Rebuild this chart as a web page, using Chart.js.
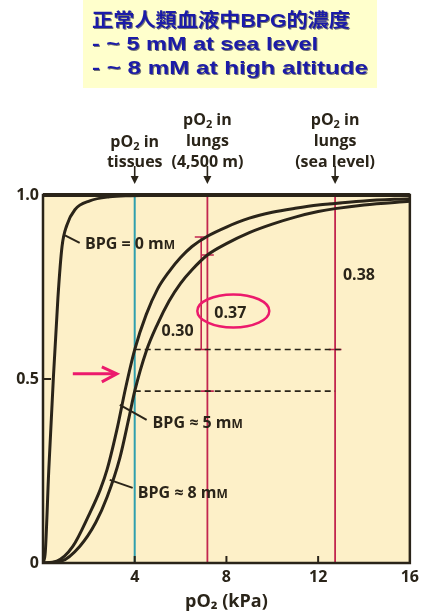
<!DOCTYPE html>
<html>
<head>
<meta charset="utf-8">
<script src="https://cdn.jsdelivr.net/npm/chart.js@4/dist/chart.umd.min.js"></script>
<style>
  html, body { margin: 0; padding: 0; background: #ffffff; }
  canvas { display: block; }
</style>
</head>
<body>
<canvas id="odc_chart" width="424" height="613"></canvas>
<script>

// O2 saturation curves: pO2 in kPa, fractional saturation
const bpg0Po2 = [0, 0.1, 0.25, 0.45, 0.65, 0.83, 1.04, 1.39, 2.04, 2.9, 3.8, 6, 16];
const bpg0Sat = [0, 0.03, 0.25, 0.5, 0.72, 0.86, 0.918, 0.96, 0.984, 0.995, 0.998, 1, 1];

const bpg5Po2 = [0, 0.6, 1.3, 2.0, 2.5, 2.8, 3.25, 3.6, 4.0, 4.5, 5.0, 5.5, 6.0, 6.5, 7.17, 8.0, 9.0, 10.0, 11.0, 12.0, 12.74, 14.0, 16.0];
const bpg5Sat = [0, 0.005, 0.045, 0.13, 0.2, 0.255, 0.37, 0.475, 0.58, 0.675, 0.745, 0.792, 0.83, 0.86, 0.888, 0.913, 0.937, 0.953, 0.964, 0.973, 0.977, 0.984, 0.99];

const bpg8Po2 = [0, 0.8, 1.6, 2.3, 2.8, 3.35, 3.75, 4.0, 4.5, 5.0, 5.5, 6.0, 6.5, 7.17, 8.0, 9.0, 10.0, 11.0, 12.0, 12.74, 14.0, 16.0];
const bpg8Sat = [0, 0.005, 0.045, 0.11, 0.18, 0.285, 0.395, 0.467, 0.575, 0.65, 0.712, 0.76, 0.797, 0.837, 0.868, 0.898, 0.921, 0.94, 0.955, 0.963, 0.973, 0.983];

// reference pO2 values (kPa)
const tissuePo2 = 4;
const lungHighPo2 = 7.17;
const lungSeaPo2 = 12.74;
const bracketPo2 = 6.9;
const dashEndPo2 = 13.0;

// saturation levels marked on the figure
const sat5Tissue = 0.58;
const sat8Tissue = 0.467;
const sat5High = 0.886;
const sat8High = 0.837;
const sat5Sea = 0.977;

const xTicks = [4, 8, 12, 16];
const yTickLabels = {0: '0', 0.5: '0.5', 1: '1.0'};
const deltaLabels = ['0.30', '0.37', '0.38'];

const titleLines = ['正常人類血液中BPG的濃度', '- ~ 5 mM at sea level', '- ~ 8 mM at high altitude'];

/////////////////////////////////////////////////////
const ink = '#2a2419';
const red = '#c2264f';
const cyan = '#2f9fae';
const pink = '#ec1a6c';

function pts(xs, ys) {
  return xs.map((x, i) => ({x: x, y: ys[i]}));
}

function seg(x1, y1, x2, y2, color, width, dash) {
  return {
    data: [{x: x1, y: y1}, {x: x2, y: y2}],
    borderColor: color,
    borderWidth: width,
    borderDash: dash || [],
    pointRadius: 0,
    tension: 0,
  };
}

function curve(xs, ys) {
  return {
    data: pts(xs, ys),
    borderColor: ink,
    borderWidth: 3,
    pointRadius: 0,
    cubicInterpolationMode: 'monotone',
  };
}

// little caps on the brackets
const capMarks = [
  [bracketPo2, sat5High], [bracketPo2, sat5Tissue],
  [lungHighPo2, sat8High], [lungHighPo2, sat8Tissue],
  [lungSeaPo2, sat5Sea], [lungSeaPo2, sat5Tissue],
];

const datasets = [
  curve(bpg0Po2, bpg0Sat),
  curve(bpg5Po2, bpg5Sat),
  curve(bpg8Po2, bpg8Sat),
  seg(tissuePo2, sat5Tissue, dashEndPo2, sat5Tissue, ink, 1.6, [6, 4]),
  seg(tissuePo2, sat8Tissue, lungSeaPo2, sat8Tissue, ink, 1.6, [6, 4]),
  seg(bracketPo2, sat5Tissue, bracketPo2, sat5High, red, 1.6),
  seg(tissuePo2, 0, tissuePo2, 1, cyan, 2),
  seg(lungHighPo2, 0, lungHighPo2, 1, red, 1.8),
  seg(lungSeaPo2, 0, lungSeaPo2, 1, red, 1.8),
];
capMarks.forEach(c => datasets.push(seg(c[0] - 0.28, c[1], c[0] + 0.28, c[1], red, 1.6)));

// text with sub/small-cap pieces, parts = [text, size, dy]
function drawParts(ctx, x, base, parts, align) {
  let total = 0;
  parts.forEach(p => {
    ctx.font = 'bold ' + p[1] + 'px "Open Sans"';
    total += ctx.measureText(p[0]).width;
  });
  let cx = align === 'center' ? x - total / 2 : x;
  ctx.textAlign = 'left';
  ctx.textBaseline = 'alphabetic';
  parts.forEach(p => {
    ctx.font = 'bold ' + p[1] + 'px "Open Sans"';
    ctx.fillText(p[0], cx, base + (p[2] || 0));
    cx += ctx.measureText(p[0]).width;
  });
}

function downArrow(ctx, x) {
  ctx.beginPath();
  ctx.moveTo(x, 166);
  ctx.lineTo(x, 178);
  ctx.stroke();
  ctx.beginPath();
  ctx.moveTo(x - 4, 176);
  ctx.lineTo(x + 4, 176);
  ctx.lineTo(x, 184);
  ctx.closePath();
  ctx.fill();
}

const decorations = {
  id: 'decorations',
  beforeDraw(chart) {
    const ctx = chart.ctx, a = chart.chartArea;
    ctx.save();
    ctx.fillStyle = '#ffffcc';
    ctx.fillRect(83, 0, 294, 88);
    ctx.fillStyle = '#fdf0c8';
    ctx.fillRect(a.left, a.top, a.right - a.left, a.bottom - a.top);

    // title block
    const widths = [258, 226, 276];
    const centers = [22, 45, 69];
    ctx.textBaseline = 'middle';
    ctx.textAlign = 'left';
    titleLines.forEach((t, i) => {
      ctx.font = 'bold 19px "Liberation Sans", "Noto Sans CJK TC", sans-serif';
      const w = ctx.measureText(t).width;
      ctx.save();
      ctx.translate(92, centers[i]);
      ctx.scale(widths[i] / w, 1);
      ctx.shadowColor = 'rgba(0, 0, 40, 0.55)';
      ctx.shadowOffsetX = 1;
      ctx.shadowOffsetY = 1;
      ctx.fillStyle = '#1b1ba8';
      ctx.fillText(t, 0, 0);
      ctx.restore();
    });
    ctx.restore();
  },
  afterDatasetsDraw(chart) {
    const ctx = chart.ctx, a = chart.chartArea;
    const sx = v => chart.scales.x.getPixelForValue(v);
    const sy = v => chart.scales.y.getPixelForValue(v);
    ctx.save();
    ctx.strokeStyle = ink;
    ctx.fillStyle = ink;

    // frame
    ctx.lineWidth = 2.5;
    ctx.strokeRect(a.left, a.top, a.right - a.left, a.bottom - a.top);
    ctx.lineWidth = 4;
    ctx.beginPath();
    ctx.moveTo(a.left, a.top);
    ctx.lineTo(a.right, a.top);
    ctx.stroke();

    // inside tick marks
    ctx.lineWidth = 2;
    xTicks.slice(0, 3).forEach(v => {
      ctx.beginPath();
      ctx.moveTo(sx(v), a.bottom);
      ctx.lineTo(sx(v), a.bottom - 7);
      ctx.stroke();
    });
    [0.5].forEach(v => {
      ctx.beginPath();
      ctx.moveTo(a.left, sy(v));
      ctx.lineTo(a.left + 8, sy(v));
      ctx.stroke();
    });

    // column headers and arrows
    const cols = [
      [tissuePo2, [[141, 'pO2 in'], [161, 'tissues']]],
      [lungHighPo2, [[119, 'pO2 in'], [140, 'lungs'], [161, '(4,500 m)']]],
      [lungSeaPo2, [[119, 'pO2 in'], [140, 'lungs'], [161, '(sea level)']]],
    ];
    cols.forEach(c => {
      const x = sx(c[0]);
      c[1].forEach(l => {
        const base = l[0] + 5.5;
        if (l[1] === 'pO2 in') {
          drawParts(ctx, x, base, [['pO', 16], ['2', 11, 3], [' in', 16]], 'center');
        } else {
          drawParts(ctx, x, base, [[l[1], 16]], 'center');
        }
      });
      ctx.lineWidth = 1.6;
      downArrow(ctx, x);
    });

    // curve labels with leaders
    ctx.lineWidth = 2;
    ctx.beginPath();
    ctx.moveTo(sx(0.96), sy(0.89));
    ctx.lineTo(sx(1.6), sy(0.87));
    ctx.stroke();
    drawParts(ctx, sx(1.83), sy(0.87) + 6, [['BPG = 0 m', 16], ['M', 12]]);

    ctx.beginPath();
    ctx.moveTo(sx(3.35), sy(0.43));
    ctx.lineTo(sx(4.52), sy(0.389));
    ctx.stroke();
    drawParts(ctx, sx(4.78), sy(0.383) + 6, [['BPG ≈ 5 m', 16], ['M', 12]]);

    ctx.beginPath();
    ctx.moveTo(sx(2.91), sy(0.226));
    ctx.lineTo(sx(3.91), sy(0.204));
    ctx.stroke();
    drawParts(ctx, sx(4.13), sy(0.193) + 6, [['BPG ≈ 8 m', 16], ['M', 12]]);

    // delta values
    drawParts(ctx, sx(5.87), sy(0.633) + 6, [[deltaLabels[0], 16]], 'center');
    drawParts(ctx, sx(8.17), sy(0.682) + 6, [[deltaLabels[1], 16]], 'center');
    drawParts(ctx, sx(13.78), sy(0.785) + 6, [[deltaLabels[2], 16]], 'center');

    // pink highlight
    ctx.strokeStyle = pink;
    ctx.lineWidth = 2.5;
    ctx.beginPath();
    ctx.ellipse(sx(8.3), sy(0.685), 36, 16.5, 0, 0, Math.PI * 2);
    ctx.stroke();

    ctx.lineWidth = 3;
    const ay = sy(0.514);
    ctx.beginPath();
    ctx.moveTo(sx(1.3), ay);
    ctx.lineTo(sx(3.22) - 1, ay);
    ctx.stroke();
    ctx.beginPath();
    ctx.moveTo(sx(3.22) - 15, ay - 7);
    ctx.lineTo(sx(3.22), ay);
    ctx.lineTo(sx(3.22) - 15, ay + 8);
    ctx.stroke();

    ctx.restore();
  }
};

Chart.defaults.font.family = '"Open Sans", sans-serif';

const config = {
  type: 'line',
  data: { datasets: datasets },
  options: {
    responsive: false,
    animation: false,
    devicePixelRatio: 1,
    layout: { padding: { top: 195, right: 14, bottom: 0, left: 0 } },
    plugins: {
      legend: { display: false },
      tooltip: { enabled: false },
    },
    scales: {
      x: {
        type: 'linear', min: 0, max: 16,
        grid: { display: false, drawTicks: false },
        border: { display: false },
        ticks: {
          stepSize: 4, padding: 5, color: ink,
          font: { size: 16, weight: 'bold' },
          callback: v => xTicks.includes(v) ? String(v) : '',
        },
        title: {
          display: true, text: 'pO₂ (kPa)', color: ink,
          font: { size: 18, weight: 'bold' },
          padding: { top: 0, bottom: 0 },
        },
        afterFit: s => { s.height = 50; },
      },
      y: {
        type: 'linear', min: 0, max: 1,
        grid: { display: false, drawTicks: false },
        border: { display: false },
        ticks: {
          stepSize: 0.5, padding: 4, color: ink,
          font: { size: 16, weight: 'bold' },
          callback: v => yTickLabels[v] !== undefined ? yTickLabels[v] : '',
        },
        afterFit: s => { s.width = 43; },
      },
    },
  },
  plugins: [decorations],
};

const ctx = document.getElementById('odc_chart').getContext('2d');
var myChart = new Chart(ctx, config);
</script>
</body>
</html>
